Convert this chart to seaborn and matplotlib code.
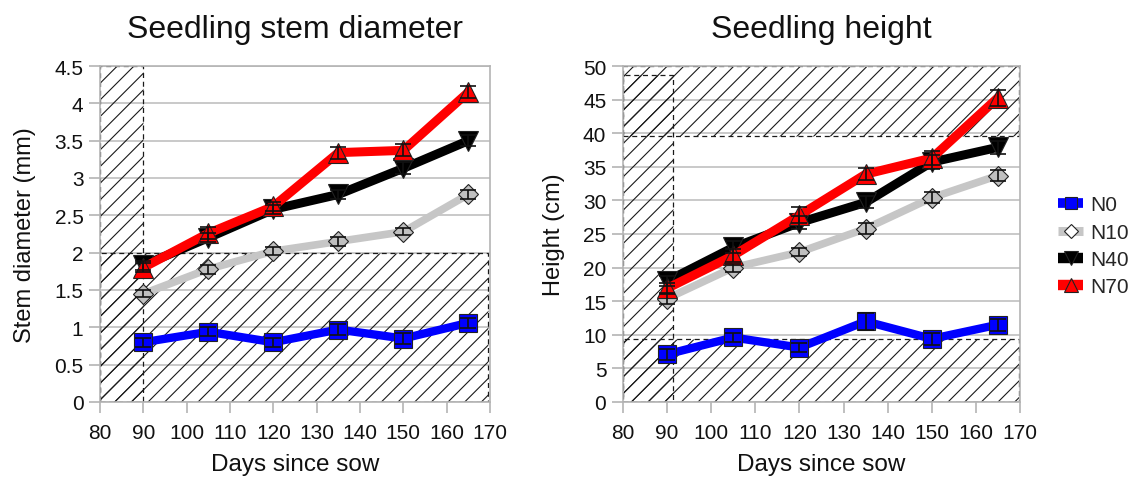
import numpy as np
import pandas as pd
import matplotlib
matplotlib.use("Agg")
import matplotlib.pyplot as plt
from matplotlib.patches import Rectangle
from matplotlib.lines import Line2D
import seaborn as sns

# ---------------- data ----------------
days = [90, 105, 120, 135, 150, 165]
series = ["N0", "N10", "N40", "N70"]

stem_N0 = [0.80, 0.94, 0.80, 0.97, 0.85, 1.06]
stem_N10 = [1.45, 1.78, 2.02, 2.15, 2.28, 2.78]
stem_N40 = [1.83, 2.20, 2.58, 2.78, 3.13, 3.50]
stem_N70 = [1.80, 2.26, 2.62, 3.34, 3.37, 4.15]
stem_err_N0 = [0.06, 0.06, 0.06, 0.07, 0.07, 0.07]
stem_err_N10 = [0.05, 0.06, 0.05, 0.06, 0.05, 0.06]
stem_err_N40 = [0.06, 0.06, 0.06, 0.06, 0.08, 0.07]
stem_err_N70 = [0.06, 0.08, 0.06, 0.08, 0.08, 0.08]

height_N0 = [7.1, 9.6, 8.1, 12.0, 9.4, 11.5]
height_N10 = [15.4, 20.0, 22.3, 25.8, 30.4, 33.7]
height_N40 = [18.0, 23.0, 26.7, 29.7, 35.7, 37.9]
height_N70 = [16.9, 21.8, 27.8, 33.9, 36.3, 45.3]
height_err_N0 = [0.8, 0.7, 0.7, 1.3, 0.9, 0.9]
height_err_N10 = [0.8, 0.6, 0.6, 0.8, 0.8, 0.8]
height_err_N40 = [0.8, 0.9, 1.0, 0.9, 1.0, 1.0]
height_err_N70 = [0.8, 1.0, 1.2, 0.9, 1.0, 1.2]

x_ticks = [80, 90, 100, 110, 120, 130, 140, 150, 160, 170]
stem_ticks = [0, 0.5, 1, 1.5, 2, 2.5, 3, 3.5, 4, 4.5]
stem_tick_labels = ["0", "0.5", "1", "1.5", "2", "2.5", "3", "3.5", "4", "4.5"]
height_ticks = [0, 5, 10, 15, 20, 25, 30, 35, 40, 45, 50]

# shaded (hatched) regions: (x0, x1, y0, y1)
stem_regions = [(80, 90, 0, 4.5), (80, 169.5, 0, 2.0)]
height_regions = [(80, 91.3, 0, 48.6), (80, 169.7, 39.6, 50), (80, 169.7, 0, 9.4)]

# ---------------- styles ----------------
styles = {
    "N0":  dict(color="#0000ff", marker="s", mfc="#0000ff", ms=13, lw=6),
    "N10": dict(color="#c6c6c6", marker="D", mfc="#c0c0c0", ms=10, lw=5.5),
    "N40": dict(color="#000000", marker="v", mfc="#000000", ms=15, lw=6.5),
    "N70": dict(color="#ff0000", marker="^", mfc="#ff0000", ms=14, lw=6.5),
}

sns.set_style("white")
plt.rcParams["font.family"] = ["Liberation Sans", "DejaVu Sans"]
plt.rcParams["hatch.linewidth"] = 0.8

fig = plt.figure(figsize=(11.33, 4.81), dpi=100)
axL = fig.add_axes([0.0883, 0.1622, 0.3442, 0.6985])
axR = fig.add_axes([0.5499, 0.1622, 0.3504, 0.6985])


def draw(ax, vals, errs, regions, yticks, ylabels, ylim, ylabel, title):
    for (x0, x1, y0, y1) in regions:
        ax.add_patch(Rectangle((x0, y0), x1 - x0, y1 - y0, fill=False,
                               hatch="//", edgecolor="#1a1a1a", linestyle=(0, (4, 3)),
                               linewidth=0.9, zorder=1.5))
    for s in series:
        st = styles[s]
        df = pd.DataFrame({"day": days, "val": vals[s]})
        sns.lineplot(data=df, x="day", y="val", ax=ax, color=st["color"],
                     linewidth=st["lw"], marker=st["marker"], markersize=st["ms"],
                     markerfacecolor=st["mfc"], markeredgecolor="#222222",
                     markeredgewidth=0.8, zorder=3, legend=False)
        ax.errorbar(days, vals[s], yerr=errs[s], fmt="none", ecolor="#111111",
                    elinewidth=1.2, capsize=6, capthick=1.2, zorder=4)
    ax.set_xlim(80, 170)
    ax.set_ylim(*ylim)
    ax.set_xticks(x_ticks)
    ax.set_yticks(yticks)
    ax.set_yticklabels(ylabels)
    ax.yaxis.grid(True, color="#c0c0c0", linewidth=1.2, zorder=0)
    ax.xaxis.grid(False)
    ax.set_axisbelow(True)
    for sp in ax.spines.values():
        sp.set_color("#b4b4b4")
        sp.set_linewidth(1.2)
    ax.tick_params(axis="both", which="major", labelsize=15, length=8,
                   color="#b4b4b4", width=1.2, direction="out",
                   bottom=True, left=True, labelcolor="#111111")
    ax.tick_params(axis="x", pad=7)
    ax.tick_params(axis="y", pad=4)
    ax.set_xlabel("Days since sow", fontsize=17.5, labelpad=8, color="#111111")
    ax.set_ylabel(ylabel, fontsize=17, labelpad=13, color="#111111")
    ax.set_title(title, fontsize=23, pad=21, color="#111111")


draw(axL,
     {"N0": stem_N0, "N10": stem_N10, "N40": stem_N40, "N70": stem_N70},
     {"N0": stem_err_N0, "N10": stem_err_N10, "N40": stem_err_N40, "N70": stem_err_N70},
     stem_regions, stem_ticks, stem_tick_labels, (0, 4.5),
     "Stem diameter (mm)", "Seedling stem diameter")
draw(axR,
     {"N0": height_N0, "N10": height_N10, "N40": height_N40, "N70": height_N70},
     {"N0": height_err_N0, "N10": height_err_N10, "N40": height_err_N40, "N70": height_err_N70},
     height_regions, height_ticks, [str(t) for t in height_ticks], (0, 50),
     "Height (cm)", "Seedling height")

handles = []
for s in series:
    st = styles[s]
    handles.append(Line2D([], [], color=st["color"], linewidth=st["lw"] + 1,
                          solid_capstyle="butt",
                          marker=st["marker"], markersize=st["ms"] * 0.7,
                          markerfacecolor=st["mfc"] if s != "N10" else "white",
                          markeredgecolor="#222222", markeredgewidth=0.8))
fig.legend(handles, series, loc="center left", bbox_to_anchor=(1058 / 1133, 0.4865),
           frameon=False, fontsize=15, handlelength=1.2, handletextpad=0.35,
           labelspacing=0.4, borderpad=0, borderaxespad=0)

fig.savefig("out.png", dpi=100)
